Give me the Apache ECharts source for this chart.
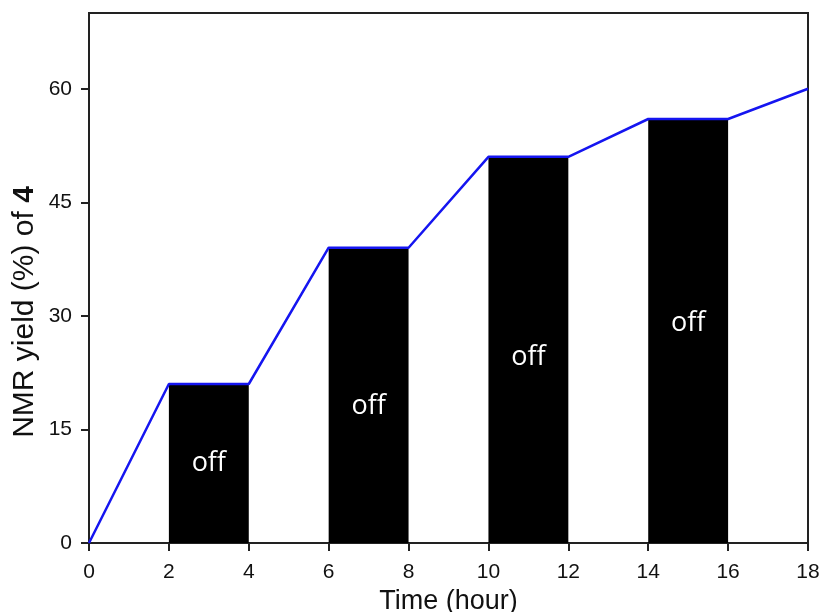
<!DOCTYPE html>
<html>
<head>
<meta charset="utf-8">
<script src="https://cdn.jsdelivr.net/npm/echarts@6/dist/echarts.min.js"></script>
<style>
  html, body { margin: 0; padding: 0; background: #fff; }
  #chart { width: 823px; height: 612px; }
</style>
</head>
<body>
<div id="chart"></div>
<script>
// yield curve (time in hours, NMR yield %)
var timePoints = [0, 2, 4, 6, 8, 10, 12, 14, 16, 18];
var yieldValues = [0, 21, 21, 39, 39, 51, 51, 56, 56, 60];

// light-off intervals
var offStart = [2, 6, 10, 14];
var offEnd = [4, 8, 12, 16];
var offYield = [21, 39, 51, 56];
var offLabelY = [10.5, 18, 24.5, 29];
var offText = 'off';

var xTicks = [0, 2, 4, 6, 8, 10, 12, 14, 16, 18];
var yTicks = [0, 15, 30, 45, 60];

var chart = echarts.init(document.getElementById('chart'));

var lineData = [];
for (var i = 0; i < timePoints.length; i++) {
  lineData.push([timePoints[i], yieldValues[i]]);
}
var offData = [];
for (var j = 0; j < offStart.length; j++) {
  offData.push([offStart[j], offEnd[j], offYield[j], offLabelY[j]]);
}

var option = {
  animation: false,
  backgroundColor: '#fff',
  grid: {
    left: 89, right: 15, top: 13, bottom: 69,
    outerBoundsMode: 'none',
    containLabel: false,
    show: true,
    borderColor: '#222',
    borderWidth: 2
  },
  xAxis: {
    type: 'value',
    min: 0, max: 18, interval: 2,
    name: 'Time (hour)',
    nameLocation: 'middle',
    nameGap: 44,
    nameTextStyle: { fontFamily: 'Liberation Sans', fontSize: 27, color: '#111' },
    axisLine: { lineStyle: { color: '#222', width: 2 } },
    axisTick: { length: 8, lineStyle: { color: '#222', width: 2 }, customValues: xTicks },
    axisLabel: { margin: 19, fontFamily: 'Liberation Sans', fontSize: 21, color: '#111', customValues: xTicks },
    splitLine: { show: false }
  },
  yAxis: {
    type: 'value',
    min: 0, max: 70, interval: 15,
    name: 'NMR yield (%) of {b|4}',
    nameLocation: 'middle',
    nameGap: 49,
    nameMoveOverlap: false,
    nameTextStyle: {
      fontFamily: 'Liberation Sans', fontSize: 30, color: '#111',
      padding: [0, 68, 0, 0],
      rich: { b: { fontFamily: 'Liberation Sans', fontSize: 30, fontWeight: 'bold', color: '#111' } }
    },
    axisLine: { lineStyle: { color: '#222', width: 2 } },
    axisTick: { length: 8, lineStyle: { color: '#222', width: 2 }, customValues: yTicks },
    axisLabel: { margin: 17, fontFamily: 'Liberation Sans', fontSize: 21, color: '#111', customValues: yTicks },
    splitLine: { show: false }
  },
  series: [{
    type: 'custom',
    data: offData,
    z: 2,
    renderItem: function (params, api) {
      var p0 = api.coord([api.value(0), api.value(2)]);
      var p1 = api.coord([api.value(1), 0]);
      var pc = api.coord([(api.value(0) + api.value(1)) / 2, api.value(3)]);
      return {
        type: 'group',
        children: [{
          type: 'rect',
          shape: { x: p0[0], y: p0[1], width: p1[0] - p0[0], height: p1[1] - p0[1] },
          style: { fill: '#000' }
        }, {
          type: 'text',
          style: {
            x: pc[0], y: pc[1], text: offText,
            fill: '#fff', fontFamily: 'Open Sans', fontSize: 27,
            align: 'center', verticalAlign: 'middle'
          }
        }]
      };
    }
  }, {
    type: 'line',
    data: lineData,
    z: 3,
    showSymbol: false,
    lineStyle: { color: '#1515f0', width: 2.5 }
  }]
};
chart.setOption(option);
</script>
</body>
</html>
